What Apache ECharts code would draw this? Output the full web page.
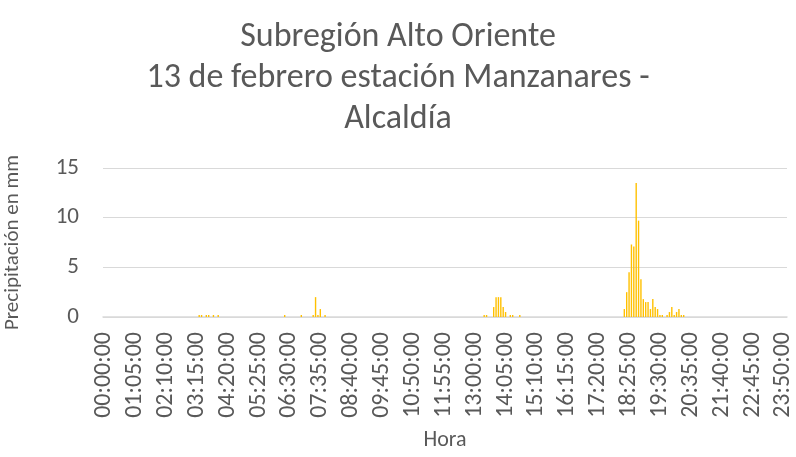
<!DOCTYPE html>
<html>
<head>
<meta charset="utf-8">
<script src="https://cdn.jsdelivr.net/npm/echarts@6/dist/echarts.min.js"></script>
<style>
  html, body { margin: 0; padding: 0; background: #fff; }
  #chart { width: 796px; height: 457px; }
</style>
</head>
<body>
<div id="chart"></div>
<script>
// precipitación cada 5 minutos (mm), una fila por hora
const rainByHour = [
  [0, 0, 0, 0, 0, 0, 0, 0, 0, 0, 0, 0],            // 00
  [0, 0, 0, 0, 0, 0, 0, 0, 0, 0, 0, 0],            // 01
  [0, 0, 0, 0, 0, 0, 0, 0, 0, 0, 0, 0],            // 02
  [0, 0, 0, 0, 0.2, 0.2, 0, 0.2, 0.2, 0, 0.2, 0],  // 03
  [0.2, 0, 0, 0, 0, 0, 0, 0, 0, 0, 0, 0],          // 04
  [0, 0, 0, 0, 0, 0, 0, 0, 0, 0, 0, 0],            // 05
  [0, 0, 0, 0, 0.2, 0, 0, 0, 0, 0, 0, 0.2],        // 06
  [0, 0, 0, 0, 0.2, 2.0, 0.2, 0.8, 0, 0.2, 0, 0],  // 07
  [0, 0, 0, 0, 0, 0, 0, 0, 0, 0, 0, 0],            // 08
  [0, 0, 0, 0, 0, 0, 0, 0, 0, 0, 0, 0],            // 09
  [0, 0, 0, 0, 0, 0, 0, 0, 0, 0, 0, 0],            // 10
  [0, 0, 0, 0, 0, 0, 0, 0, 0, 0, 0, 0],            // 11
  [0, 0, 0, 0, 0, 0, 0, 0, 0, 0, 0, 0],            // 12
  [0, 0, 0, 0, 0.2, 0.2, 0, 0, 1.0, 2.0, 2.0, 2.0],// 13
  [1.0, 0.5, 0, 0.2, 0.2, 0, 0, 0.2, 0, 0, 0, 0],  // 14
  [0, 0, 0, 0, 0, 0, 0, 0, 0, 0, 0, 0],            // 15
  [0, 0, 0, 0, 0, 0, 0, 0, 0, 0, 0, 0],            // 16
  [0, 0, 0, 0, 0, 0, 0, 0, 0, 0, 0, 0],            // 17
  [0, 0, 0, 0.8, 2.5, 4.5, 7.3, 7.1, 13.5, 9.7, 3.8, 1.8], // 18
  [1.5, 1.5, 0.8, 1.8, 1.0, 0.8, 0.2, 0.2, 0, 0.2, 0.5, 1.0], // 19
  [0.2, 0.5, 0.8, 0.2, 0.2, 0, 0, 0, 0, 0, 0, 0],  // 20
  [0, 0, 0, 0, 0, 0, 0, 0, 0, 0, 0, 0],            // 21
  [0, 0, 0, 0, 0, 0, 0, 0, 0, 0, 0, 0],            // 22
  [0, 0, 0, 0, 0, 0, 0, 0, 0, 0, 0, 0]             // 23
];
const minuteSteps = ['00', '05', '10', '15', '20', '25', '30', '35', '40', '45', '50', '55'];
const yTicks = [0, 5, 10, 15];

const pad = n => String(n).padStart(2, '0');
const horas = [];
const lluvia = [];
rainByHour.forEach((row, h) => {
  row.forEach((v, i) => {
    horas.push(pad(h) + ':' + minuteSteps[i] + ':00');
    lluvia.push(v);
  });
});

const FONT = 'Carlito, Calibri, Lato, sans-serif';
const GRAY = '#595959';

const chart = echarts.init(document.getElementById('chart'), null, { renderer: 'canvas' });
chart.setOption({
  animation: false,
  title: {
    text: 'Subregión Alto Oriente\n13 de febrero estación Manzanares -\nAlcaldía',
    left: 'center',
    top: 12,
    textStyle: {
      fontFamily: FONT,
      fontSize: 34,
      fontWeight: 'normal',
      color: GRAY,
      lineHeight: 41
    }
  },
  grid: { left: 103, right: 9, top: 168, bottom: 140, outerBoundsMode: 'none', containLabel: false },
  xAxis: {
    type: 'category',
    data: horas,
    name: 'Hora',
    nameLocation: 'middle',
    nameGap: 112,
    nameTextStyle: { fontFamily: FONT, fontSize: 22, color: GRAY },
    axisLine: { lineStyle: { color: '#D9D9D9', width: 1.5 } },
    axisTick: { show: false },
    axisLabel: {
      interval: 12,
      rotate: 90,
      margin: 15,
      fontFamily: FONT,
      fontSize: 24,
      color: GRAY
    }
  },
  yAxis: {
    type: 'value',
    min: yTicks[0],
    max: yTicks[yTicks.length - 1],
    interval: 5,
    name: 'Precipitación en mm',
    nameLocation: 'middle',
    nameRotate: 90,
    nameGap: 80,
    nameTextStyle: { fontFamily: FONT, fontSize: 21, color: GRAY },
    axisLine: { show: false },
    axisTick: { show: false },
    axisLabel: { margin: 24, fontFamily: FONT, fontSize: 23, color: GRAY },
    splitLine: { lineStyle: { color: '#D9D9D9', width: 1 } }
  },
  series: [{
    type: 'bar',
    data: lluvia,
    barWidth: 1.4,
    itemStyle: { color: '#FFC000' }
  }]
});
</script>
</body>
</html>
